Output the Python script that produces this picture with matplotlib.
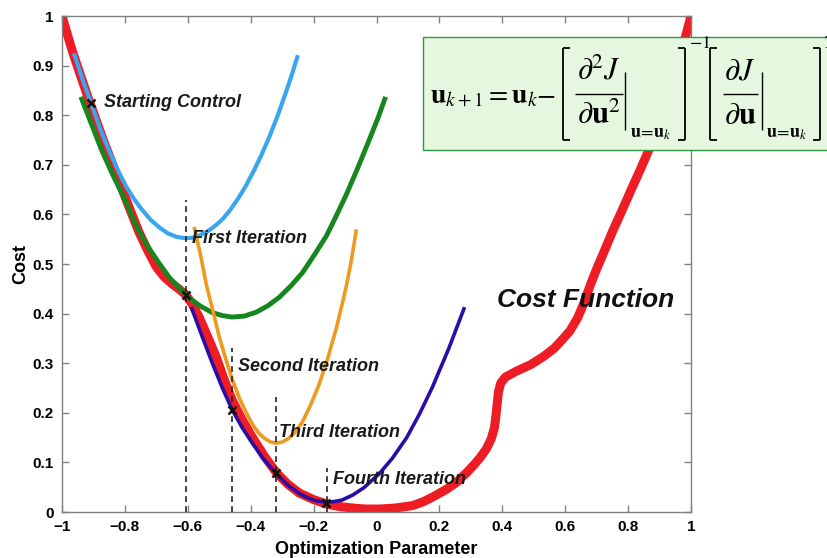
import numpy as np
import matplotlib
matplotlib.use("Agg")
import matplotlib.pyplot as plt
from matplotlib.patches import Rectangle
from matplotlib.lines import Line2D

plt.rcParams['font.family'] = ['Liberation Sans', 'DejaVu Sans']
plt.rcParams['mathtext.fontset'] = 'stix'

# ===== cost function J(u) =====
red_x = [-1.0, -0.984, -0.968, -0.940, -0.914, -0.870, -0.828, -0.790, -0.755, -0.725,
         -0.700, -0.675, -0.650, -0.627, -0.605, -0.585, -0.564, -0.538, -0.510, -0.485,
         -0.459, -0.428, -0.395, -0.357, -0.318, -0.282, -0.245, -0.200, -0.159, -0.118,
         -0.076, -0.035, 0.010, 0.060, 0.115, 0.150, 0.178, 0.223, 0.255, 0.286,
         0.310, 0.330, 0.350, 0.365, 0.375, 0.380, 0.384, 0.388, 0.395, 0.410,
         0.445, 0.490, 0.530, 0.565, 0.590, 0.615, 0.640, 0.660, 0.680, 0.700,
         0.725, 0.750, 0.780, 0.810, 0.840, 0.870, 0.895, 0.920, 0.940, 0.960,
         0.980, 1.0]
red_y = [1.0, 0.965, 0.931, 0.878, 0.830, 0.752, 0.683, 0.620, 0.564, 0.524,
         0.494, 0.474, 0.460, 0.449, 0.437, 0.418, 0.393, 0.355, 0.313, 0.268,
         0.226, 0.187, 0.151, 0.113, 0.079, 0.056, 0.038, 0.025, 0.016, 0.011,
         0.008, 0.006, 0.006, 0.008, 0.013, 0.021, 0.030, 0.046, 0.060, 0.079,
         0.095, 0.110, 0.128, 0.148, 0.170, 0.195, 0.220, 0.243, 0.260, 0.272,
         0.284, 0.297, 0.313, 0.330, 0.347, 0.365, 0.392, 0.422, 0.458, 0.490,
         0.527, 0.565, 0.607, 0.650, 0.692, 0.736, 0.780, 0.830, 0.870, 0.910,
         0.952, 1.0]

# ===== local quadratic models, one per Newton step =====
blue_x = [-0.962, -0.935, -0.908, -0.880, -0.850, -0.823, -0.796, -0.770, -0.745, -0.718,
          -0.691, -0.664, -0.637, -0.620, -0.605, -0.585, -0.565, -0.540, -0.515, -0.490,
          -0.465, -0.440, -0.415, -0.390, -0.365, -0.341, -0.315, -0.287, -0.268, -0.250]
blue_y = [0.925, 0.873, 0.825, 0.775, 0.728, 0.690, 0.656, 0.630, 0.609, 0.589,
          0.574, 0.562, 0.555, 0.553, 0.552, 0.553, 0.557, 0.5645, 0.576, 0.590,
          0.609, 0.632, 0.658, 0.688, 0.721, 0.756, 0.798, 0.848, 0.884, 0.921]

green_x = [-0.940, -0.905, -0.873, -0.835, -0.796, -0.765, -0.732, -0.695, -0.659, -0.628,
           -0.596, -0.560, -0.522, -0.490, -0.459, -0.420, -0.382, -0.345, -0.309, -0.272,
           -0.236, -0.198, -0.159, -0.128, -0.096, -0.060, -0.022, 0.005, 0.029]
green_y = [0.837, 0.780, 0.728, 0.675, 0.625, 0.578, 0.540, 0.505, 0.473, 0.452,
           0.432, 0.415, 0.402, 0.396, 0.393, 0.395, 0.403, 0.416, 0.433, 0.456,
           0.482, 0.518, 0.557, 0.597, 0.640, 0.693, 0.752, 0.795, 0.837]

orange_x = [-0.580, -0.560, -0.541, -0.520, -0.500, -0.480, -0.459, -0.437, -0.414, -0.393,
            -0.373, -0.355, -0.336, -0.318, -0.300, -0.280, -0.260, -0.236, -0.210, -0.182,
            -0.155, -0.127, -0.096, -0.080, -0.064]
orange_y = [0.575, 0.520, 0.458, 0.405, 0.353, 0.310, 0.268, 0.231, 0.200, 0.175,
            0.158, 0.148, 0.141, 0.139, 0.141, 0.148, 0.160, 0.181, 0.215, 0.258,
            0.310, 0.372, 0.455, 0.507, 0.570]

purple_x = [-0.589, -0.555, -0.522, -0.490, -0.459, -0.427, -0.395, -0.357, -0.318, -0.282,
            -0.245, -0.220, -0.195, -0.175, -0.157, -0.135, -0.110, -0.076, -0.040, 0.010,
            0.050, 0.096, 0.137, 0.178, 0.230, 0.280]
purple_y = [0.413, 0.355, 0.300, 0.250, 0.206, 0.170, 0.139, 0.105, 0.077, 0.054,
            0.037, 0.029, 0.023, 0.021, 0.020, 0.021, 0.024, 0.034, 0.049, 0.078,
            0.108, 0.150, 0.198, 0.252, 0.330, 0.413]

# iterates u_k and their costs
iter_x = [-0.908, -0.605, -0.459, -0.318, -0.159]
iter_y = [0.825, 0.437, 0.206, 0.079, 0.018]

# dashed markers at each new iterate
vline_x = [-0.605, -0.459, -0.318, -0.156]
vline_top = [0.630, 0.330, 0.232, 0.089]

labels = ["Starting Control", "First Iteration", "Second Iteration",
          "Third Iteration", "Fourth Iteration"]
label_x = [-0.866, -0.586, -0.440, -0.309, -0.137]
label_y = [0.825, 0.552, 0.294, 0.161, 0.065]

xticks = [-1, -0.8, -0.6, -0.4, -0.2, 0, 0.2, 0.4, 0.6, 0.8, 1]
xticklabels = ["\u22121", "\u22120.8", "\u22120.6", "\u22120.4", "\u22120.2",
               "0", "0.2", "0.4", "0.6", "0.8", "1"]
yticks = [0, 0.1, 0.2, 0.3, 0.4, 0.5, 0.6, 0.7, 0.8, 0.9, 1]
yticklabels = ["0", "0.1", "0.2", "0.3", "0.4", "0.5", "0.6", "0.7", "0.8", "0.9", "1"]

W, H = 827, 558
fig = plt.figure(figsize=(W / 100, H / 100), dpi=100)
ax = fig.add_axes([62 / W, 46 / H, 629 / W, 496 / H])

ax.plot(red_x, red_y, color='#ee1c24', lw=6.5, solid_joinstyle='round', zorder=2)
ax.plot(blue_x, blue_y, color='#3aa6ee', lw=3.0, solid_capstyle='butt', zorder=3)
ax.plot(green_x, green_y, color='#15871e', lw=3.5, solid_capstyle='butt', zorder=3)
ax.plot(orange_x, orange_y, color='#ee9a1f', lw=2.6, solid_capstyle='butt', zorder=4)
ax.plot(purple_x, purple_y, color='#2b0ca6', lw=2.6, solid_capstyle='butt', zorder=4)

for vx, vt in zip(vline_x, vline_top):
    ax.plot([vx, vx], [0, vt], color='#222222', lw=1.2, ls=(0, (3.5, 2.5)), zorder=5)

ax.plot(iter_x, iter_y, 'x', color='#111111', ms=6, mew=1.8, zorder=6)

for s, lx, ly in zip(labels, label_x, label_y):
    ax.text(lx, ly, s, fontsize=13, fontweight='bold', fontstyle='italic',
            color='#1a1a1a', va='center', ha='left', zorder=7)

ax.text(0.382, 0.427, "Cost Function", fontsize=19, fontweight='bold',
        fontstyle='italic', color='#111111', va='center', ha='left', zorder=7)

ax.set_xlim(-1, 1)
ax.set_ylim(0, 1)
ax.set_xticks(xticks)
ax.set_xticklabels(xticklabels)
ax.set_yticks(yticks)
ax.set_yticklabels(yticklabels)
ax.tick_params(direction='in', length=5, width=1, color='#808080',
               top=True, right=True, labelsize=11, pad=6)
for lab in ax.get_xticklabels() + ax.get_yticklabels():
    lab.set_fontweight('bold')
for sp in ax.spines.values():
    sp.set_color('#808080')
    sp.set_linewidth(1.0)

ax.set_xlabel("Optimization Parameter", fontsize=13, fontweight='bold', labelpad=5)
ax.set_ylabel("Cost", fontsize=13, fontweight='bold', labelpad=2)


# ----- Newton update box, laid out in pixel units -----
def fxy(x, y):
    return x / W, 1 - y / H


def seg(x0, y0, x1, y1, lw=1.3):
    (a, b), (c, d) = fxy(x0, y0), fxy(x1, y1)
    fig.add_artist(Line2D([a, c], [b, d], transform=fig.transFigure,
                          color='black', lw=lw, solid_capstyle='butt', zorder=12))


def txt(x, y, s, size, ha='center', va='center'):
    fig.text(*fxy(x, y), s, fontsize=size, ha=ha, va=va, zorder=12)


def bracket(x, top, bot, side):
    seg(x, top, x, bot)
    seg(x, top, x + 7 * side, top)
    seg(x, bot, x + 7 * side, bot)


fig.add_artist(Rectangle(fxy(423, 150), 0.6, 113 / H, transform=fig.transFigure,
                         facecolor='#e5f8df', edgecolor='#2e9a3e', lw=1.0, zorder=10))

txt(430, 102, r"$\mathbf{u}_{k+1} = \mathbf{u}_k$", 20, ha='left', va='baseline')
txt(546, 95, r"$-$", 20)

# inverse Hessian term
bracket(563, 48, 140, 1)
txt(599, 72, r"$\partial^2 J$", 22)
seg(575, 94, 623, 94, lw=1.0)
txt(599, 116, r"$\partial \mathbf{u}^2$", 22)
seg(625, 72, 625, 130, lw=1.0)
txt(630, 134, r"$\mathbf{u}\!=\!\mathbf{u}_k$", 13, ha='left')
bracket(685, 48, 140, -1)
txt(689, 44, r"$-1$", 13, ha='left')

# gradient term
bracket(710, 48, 140, 1)
txt(740, 72, r"$\partial J$", 22)
seg(723, 94, 758, 94, lw=1.0)
txt(740, 116, r"$\partial \mathbf{u}$", 22)
seg(762, 72, 762, 130, lw=1.0)
txt(766, 134, r"$\mathbf{u}\!=\!\mathbf{u}_k$", 13, ha='left')
bracket(820, 48, 140, -1)
txt(823, 44, r"$T$", 13, ha='left')

fig.savefig("out.png", dpi=100)
